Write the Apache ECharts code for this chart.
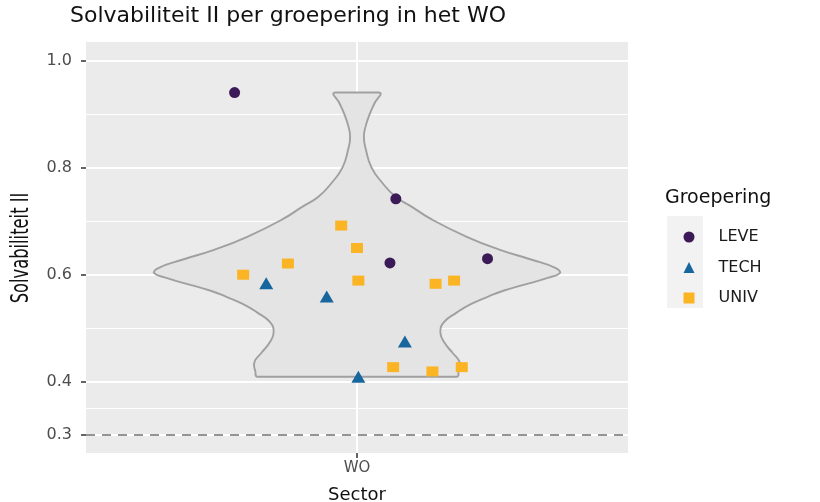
<!DOCTYPE html>
<html><head><meta charset="utf-8">
<script src="https://cdn.jsdelivr.net/npm/echarts@6/dist/echarts.min.js"></script>
<style>html,body{margin:0;padding:0;background:#fff}#c{width:820px;height:502px}</style>
</head><body><div id="c"></div><script>
// ---- data ----
const categories = ['WO'];
const groups = ['LEVE', 'TECH', 'UNIV'];
// jittered horizontal position around the WO category (1 = centre) and Solvabiliteit II
const leveJitter = [0.729, 1.086, 1.073, 1.289];
const leveValues = [0.941, 0.742, 0.622, 0.630];
const techJitter = [0.799, 0.933, 1.106, 1.003];
const techValues = [0.584, 0.559, 0.475, 0.409];
const univJitter = [0.748, 0.847, 0.965, 1.000, 1.003, 1.174, 1.215, 1.080, 1.167, 1.232];
const univValues = [0.600, 0.621, 0.692, 0.650, 0.589, 0.583, 0.589, 0.427, 0.419, 0.427];
const violinValues  = [0.409, 0.419, 0.436, 0.454, 0.473, 0.493, 0.512, 0.529, 0.545, 0.559, 0.570, 0.581, 0.593, 0.604, 0.613, 0.628, 0.647, 0.671, 0.703, 0.727, 0.746, 0.774, 0.802, 0.834, 0.858, 0.880, 0.903, 0.920, 0.941];
const violinDensity = [0.49, 0.50, 0.505, 0.47, 0.43, 0.41, 0.43, 0.49, 0.56, 0.645, 0.72, 0.82, 0.93, 1.00, 0.975, 0.86, 0.70, 0.54, 0.37, 0.27, 0.19, 0.12, 0.07, 0.044, 0.034, 0.044, 0.065, 0.085, 0.11];
const yTicks = [0.3, 0.4, 0.6, 0.8, 1.0];
const yMinor = [0.35, 0.5, 0.7, 0.9];
const refLine = 0.3;
const groupColors = ['#3C1A58', '#17679E', '#FBB424'];
const groupSymbols = ['circle', 'triangle', 'rect'];

const FONT = 'DejaVu Sans';
const zip = (a, b) => a.map((v, i) => [v, b[i]]);
const violinHalfWidth = 0.45;

const chart = echarts.init(document.getElementById('c'), null, {renderer: 'canvas'});

const gridLines = [];
yTicks.forEach(v => gridLines.push({yAxis: v, lineStyle: {color: '#fff', width: 2, type: 'solid'}}));
yMinor.forEach(v => gridLines.push({yAxis: v, lineStyle: {color: '#fff', width: 1, type: 'solid'}}));
gridLines.push({xAxis: 1, lineStyle: {color: '#fff', width: 2, type: 'solid'}});

const option = {
  animation: false,
  backgroundColor: '#fff',
  title: {
    text: 'Solvabiliteit II per groepering in het WO',
    left: 70, top: 5, padding: 0,
    textStyle: {fontFamily: FONT, fontSize: 22, fontWeight: 'normal', color: '#111'}
  },
  grid: {left: 86, right: 192, top: 42, bottom: 49, show: true, backgroundColor: '#EBEBEB', borderWidth: 0,
    containLabel: false, outerBoundsMode: 'none'},
  xAxis: {
    type: 'value', min: 0.4, max: 1.6,
    name: 'Sector', nameLocation: 'middle', nameGap: 33,
    nameTextStyle: {fontFamily: FONT, fontSize: 18, color: '#111'},
    axisLine: {show: false},
    axisTick: {show: true, length: 5, lineStyle: {color: '#333', width: 1.5}, customValues: [1]},
    axisLabel: {customValues: [1], formatter: () => categories[0], margin: 8,
      fontFamily: FONT, fontSize: 15, color: '#4D4D4D'},
    splitLine: {show: false}
  },
  yAxis: {
    type: 'value', min: 0.2663, max: 1.0356,
    axisLine: {show: false},
    axisTick: {show: true, length: 5, lineStyle: {color: '#333', width: 1.5}, customValues: yTicks},
    axisLabel: {customValues: yTicks, formatter: v => v.toFixed(1), margin: 14,
      fontFamily: FONT, fontSize: 16, color: '#4D4D4D'},
    splitLine: {show: false}
  },
  legend: {
    orient: 'vertical', left: 678.5, top: 223,
    itemWidth: 11, itemHeight: 11, itemGap: 12.5,
    textStyle: {fontFamily: FONT, fontSize: 16, color: '#1A1A1A', lineHeight: 18, padding: [0, 0, 0, 19]},
    data: groups.map((g, i) => ({name: g, icon: groupSymbols[i]}))
  },
  graphic: [
    {type: 'rect', left: 667, top: 216, shape: {width: 36, height: 92}, style: {fill: '#F2F2F2'}, z: -1},
    {type: 'text', left: 665, top: 189, style: {text: 'Groepering', fontFamily: FONT, fontSize: 19, fill: '#111'}},
    {type: 'text', x: 22, y: 248, rotation: Math.PI / 2, scaleX: 0.68,
      style: {text: 'Solvabiliteit II', fontFamily: FONT, fontSize: 24, fill: '#111', align: 'center', verticalAlign: 'middle'}}
  ],
  series: [
    {
      type: 'line', data: [], z: 1, silent: true,
      markLine: {z: 1, silent: true, symbol: 'none', label: {show: false}, animation: false, data: gridLines}
    },
    {
      type: 'custom', z: 2, silent: true,
      data: [[1, 0.6]],
      renderItem: function (params, api) {
        const pts = [];
        for (let i = 0; i < violinValues.length; i++) {
          pts.push(api.coord([1 - violinDensity[i] * violinHalfWidth, violinValues[i]]));
        }
        for (let i = violinValues.length - 1; i >= 0; i--) {
          pts.push(api.coord([1 + violinDensity[i] * violinHalfWidth, violinValues[i]]));
        }
        let x0 = Infinity, y0 = Infinity, x1 = -Infinity, y1 = -Infinity;
        pts.forEach(p => { x0 = Math.min(x0, p[0]); y0 = Math.min(y0, p[1]); x1 = Math.max(x1, p[0]); y1 = Math.max(y1, p[1]); });
        return {type: 'polygon', shape: {points: pts, smooth: 0.5, smoothConstraint: [[x0, y0], [x1, y1]]},
          style: {fill: '#E4E4E4', stroke: '#A0A0A0', lineWidth: 1.9}};
      }
    },
    {
      type: 'line', data: [], z: 3, silent: true,
      markLine: {z: 3, silent: true, symbol: 'none', label: {show: false}, animation: false,
        data: [{yAxis: refLine, lineStyle: {color: '#737373', width: 1.6, type: [9, 7]}}]}
    },
    {name: 'LEVE', type: 'scatter', z: 4, symbol: 'circle', symbolSize: 11,
      itemStyle: {color: groupColors[0], opacity: 1}, data: zip(leveJitter, leveValues)},
    {name: 'TECH', type: 'scatter', z: 4, symbol: 'triangle', symbolSize: [14, 12],
      itemStyle: {color: groupColors[1], opacity: 1}, data: zip(techJitter, techValues)},
    {name: 'UNIV', type: 'scatter', z: 4, symbol: 'rect', symbolSize: [12, 10],
      itemStyle: {color: groupColors[2], opacity: 1}, data: zip(univJitter, univValues)}
  ]
};
chart.setOption(option);
</script></body></html>
